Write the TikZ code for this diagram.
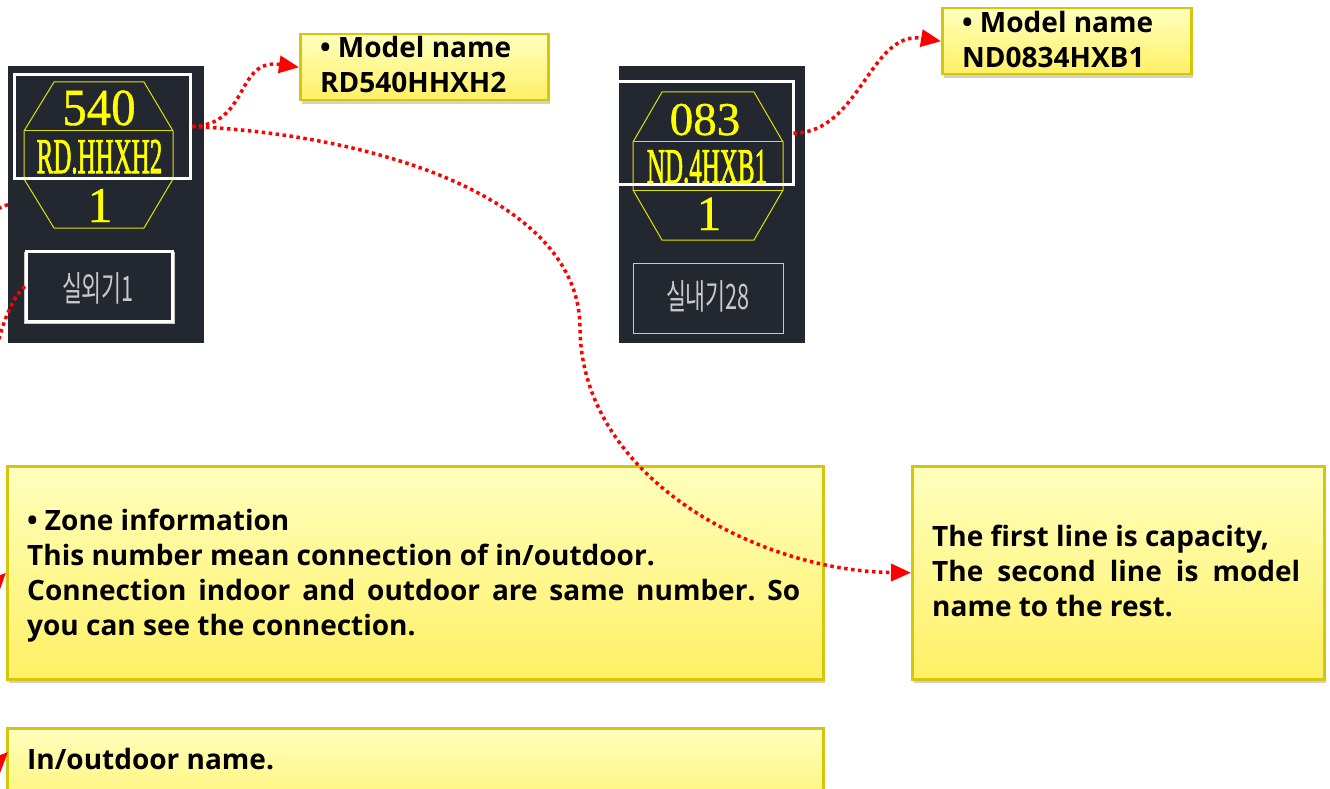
\documentclass[tikz,border=0pt]{standalone}
\usepackage{fontspec}
\usepackage{graphicx}
\setmainfont{Open Sans}
\newfontfamily\cadfont{Liberation Serif}[FakeBold=0.8]
\newfontfamily\cadfontheavy{Liberation Serif}[FakeBold=2]
\newfontfamily\krfont{Noto Sans CJK KR}
\usetikzlibrary{arrows.meta,shadows}
\frenchspacing
\definecolor{panel}{RGB}{35,40,48}
\definecolor{hexline}{RGB}{225,225,0}
\definecolor{cadyellow}{RGB}{255,255,0}
\definecolor{krgray}{RGB}{200,200,200}
\definecolor{boxborder}{RGB}{212,198,10}
\definecolor{boxtop}{RGB}{255,255,190}
\definecolor{boxbottom}{RGB}{255,240,100}
\definecolor{linkred}{RGB}{255,0,0}
\newcommand\cadtext[3]{\scalebox{#1}[1]{\cadfont\fontsize{#2}{#2}\selectfont #3}}
\newcommand\cadtextheavy[3]{\scalebox{#1}[1]{\cadfontheavy\fontsize{#2}{#2}\selectfont #3}}
\newcommand\krtext[1]{\scalebox{0.62}[1]{\krfont\fontsize{35}{35}\selectfont #1}}
\tikzset{
  darkpanel/.style={rectangle, fill=panel, inner sep=0pt, anchor=north west},
  hlrect/.style={rectangle, draw=white, line width=3pt, inner sep=0pt, anchor=north west},
  callout/.style={rectangle, draw=boxborder, line width=2.5pt, inner sep=0pt, anchor=north west,
    top color=boxtop, bottom color=boxbottom,
    drop shadow={opacity=0.3, shadow xshift=2pt, shadow yshift=-4pt, fill=black!60}},
  boxtext/.style={anchor=base west, inner sep=0pt, font=\bfseries\fontsize{28}{35}\selectfont},
  cadlabel/.style={anchor=base, inner sep=0pt, text=cadyellow},
  hexagon/.style={draw=hexline, line width=1pt},
  link/.style={draw=linkred, line width=3.5pt, dash pattern=on 3.5pt off 3.5pt,
    -{Triangle[length=20pt,width=17pt]}}
}
\begin{document}
\begin{tikzpicture}[x=1pt,y=-1pt]
\useasboundingbox (0,0) rectangle (1330,789);
\clip (0,0) rectangle (1330,789);
\fill[white] (0,0) rectangle (1330,789);

% ---- dark CAD panels
\node[darkpanel, minimum width=196pt, minimum height=277pt] (pL) at (8,66) {};
\node[darkpanel, minimum width=186pt, minimum height=277pt] (pR) at (619,66) {};

% ---- hexagon symbols
\draw[hexagon] (54,82) -- (144,82) -- (173,131) -- (173,179) -- (144,228) -- (54,228) -- (24,179) -- (24,131) -- cycle;
\draw[hexagon] (24,131) -- (173,131) (24,179) -- (173,179);
\draw[hexagon] (662,92) -- (754,92) -- (783,142) -- (783,190) -- (754,240) -- (662,240) -- (633,190) -- (633,142) -- cycle;
\draw[hexagon] (633,142) -- (783,142) (633,190) -- (783,190);

\node[cadlabel] (capL) at (99,125) {\cadtext{0.94}{52}{540}};
\node[cadlabel] (modL) at (99.5,173) {\cadtextheavy{0.5}{50}{RD.HHXH2}};
\node[cadlabel] (zoneL) at (100,222) {\cadtext{1}{50}{1}};
\node[cadlabel] (capR) at (705,135) {\cadtext{1}{47}{083}};
\node[cadlabel] (modR) at (707,183) {\cadtextheavy{0.5}{50}{ND.4HXB1}};
\node[cadlabel] (zoneR) at (709,230) {\cadtext{1}{49}{1}};

% ---- highlight rectangles
\node[hlrect, minimum width=176pt, minimum height=104pt] (hl1) at (13,73) {};
\node[rectangle, inner sep=0pt, anchor=north west, minimum width=174pt, minimum height=102pt] (hl2) at (619,82) {};
\draw[white, line width=3pt] (hl2.north west) -- (hl2.north east) -- (hl2.south east) -- (hl2.south west);

% ---- name boxes
\draw[krgray, line width=0.8pt] (24,252) rectangle (174,323);
\node[hlrect, minimum width=146pt, minimum height=70pt] (nL) at (25,250) {};
\node[rectangle, draw=krgray, line width=1pt, inner sep=0pt, anchor=north west,
      minimum width=150pt, minimum height=70pt] (nR) at (633,263) {};
\node[text=krgray, inner sep=0pt] (nLt) at (98,288) {\krtext{실외기1}};
\node[text=krgray, inner sep=0pt] (nRt) at (708,296) {\krtext{실내기28}};

% ---- callout boxes
\node[callout, minimum width=248pt, minimum height=66pt] (b1) at (299,33) {};
\node[callout, minimum width=249pt, minimum height=66pt] (b2) at (941,7) {};
\node[callout, minimum width=816pt, minimum height=213pt] (b3) at (6,465) {};
\node[callout, minimum width=816pt, minimum height=100pt] (b4) at (6,727) {};
\node[callout, minimum width=412pt, minimum height=213pt] (b5) at (911,465) {};

\node[boxtext] (t1) at (320,58) {\parbox[t]{220pt}{\raggedright • Model name\\RD540HHXH2}};
\node[boxtext] (t2) at (962,33) {\parbox[t]{220pt}{\raggedright • Model name\\ND0834HXB1}};
\node[boxtext] (t3) at (27,530) {\parbox[t]{773pt}{• Zone information\\
This number mean connection of in/outdoor.\\
Connection indoor and outdoor are same number. So\linebreak you can see the connection.}};
\node[boxtext] (t4) at (27,769) {In/outdoor name.};
\node[boxtext] (t5) at (932,546.5) {\parbox[t]{368pt}{The first line is capacity,\\
The second line is model\linebreak name to the rest.}};

% ---- connectors
\coordinate (via) at (580,330);
\coordinate (a4) at (8,752);
\draw[link] (hl1.east) .. controls (250,125) and (235,58) .. (b1.west);
\draw[link] (hl2.east) .. controls (860,133) and (870,30) .. (b2.west);
\draw[link] (hl1.east) .. controls (380,135) and (582,200) .. (via)
                       .. controls (583,480) and (760,571) .. (b5.west);
\draw[link] (pL.west) .. controls (-80,225) and (-40,620) .. (b3.west);
\draw[link] (nL.west) .. controls (-40,340) and (-40,800) .. (a4);
\end{tikzpicture}
\end{document}
